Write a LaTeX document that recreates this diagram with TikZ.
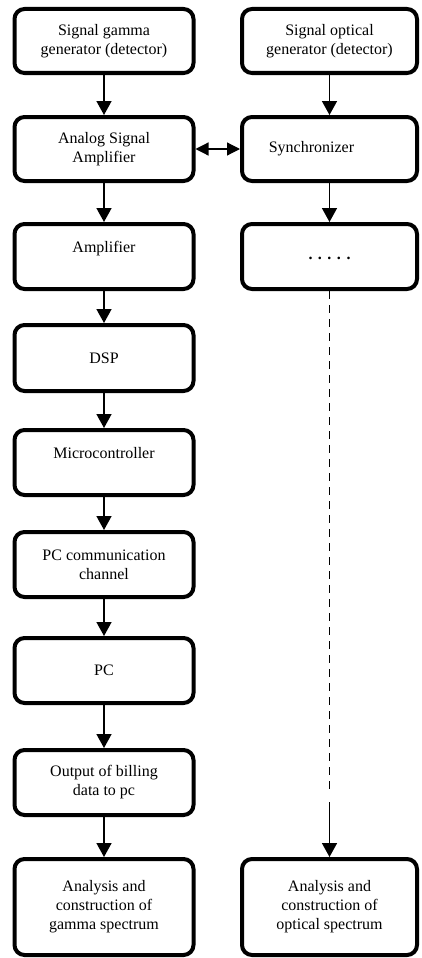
\documentclass[tikz,border=0pt]{standalone}
\usepackage{fontspec}
\setmainfont{Liberation Serif}
\usetikzlibrary{arrows.meta}
\begin{document}
\begin{tikzpicture}[x=1pt,y=-1pt,
  box/.style={draw, line width=4pt, rounded corners=10pt, align=center, inner sep=0pt,
    font=\fontsize{16}{19}\selectfont},
  lbox/.style={box, minimum width=179pt, minimum height=65pt},
  rbox/.style={box, minimum width=175pt, minimum height=65pt},
  arr/.style={line width=1.6pt, -{Triangle[length=14pt,width=15pt]}},
  darr/.style={line width=1.2pt, {Triangle[length=13pt,width=13pt]}-{Triangle[length=13pt,width=13pt]}},
  dline/.style={line width=1.3pt, dash pattern=on 8pt off 6pt}]
\useasboundingbox (0,0) rectangle (421,958);
% left column
\node[lbox, minimum height=64pt] (g1) at (104,41) {Signal gamma\\generator (detector)};
\node[lbox, minimum height=64pt] (g2) at (104,149) {Analog Signal\\Amplifier};
\node[lbox] (g3) at (104,256.5) {Amplifier\\\mbox{}};
\node[lbox, minimum height=66pt] (g4) at (104,358) {DSP};
\node[lbox] (g5) at (104,462.5) {Microcontroller\\\mbox{}};
\node[lbox] (g6) at (104,564.5) {PC communication\\channel};
\node[lbox] (g7) at (104,670.5) {PC};
\node[lbox] (g8) at (104,782.5) {Output of billing\\data to pc};
\node[lbox, minimum height=96pt] (g9) at (104,907) {Analysis and\\construction of\\gamma spectrum};
% right column
\node[rbox, minimum height=64pt] (o1) at (329.5,41) {Signal optical\\generator (detector)};
\node[rbox, minimum height=64pt] (o2) at (329.5,149) {Synchronizer\hspace{36pt}};
\node[rbox] (o3) at (329.5,256.5) {\raisebox{-6pt}{\textbf{.\hspace{5.5pt}.\hspace{5.5pt}.\hspace{5.5pt}.\hspace{5.5pt}.}}};
\node[rbox, minimum height=96pt] (o9) at (329.5,907) {Analysis and\\construction of\\optical spectrum};
\coordinate (d1) at (329.5,792);
\coordinate (d2) at (329.5,802);
% connectors
\draw[arr] (g1) -- (g2);
\draw[arr] (g2) -- (g3);
\draw[arr] (g3) -- (g4);
\draw[arr] (g4) -- (g5);
\draw[arr] (g5) -- (g6);
\draw[arr] (g6) -- (g7);
\draw[arr] (g7) -- (g8);
\draw[arr] (g8) -- (g9);
\draw[arr] (o1) -- (o2);
\draw[arr] (o2) -- (o3);
\draw[darr] (g2) -- (o2);
\draw[dline] (o3.south) -- (d1);
\draw[arr] (d2) -- (o9.north);
\end{tikzpicture}
\end{document}
